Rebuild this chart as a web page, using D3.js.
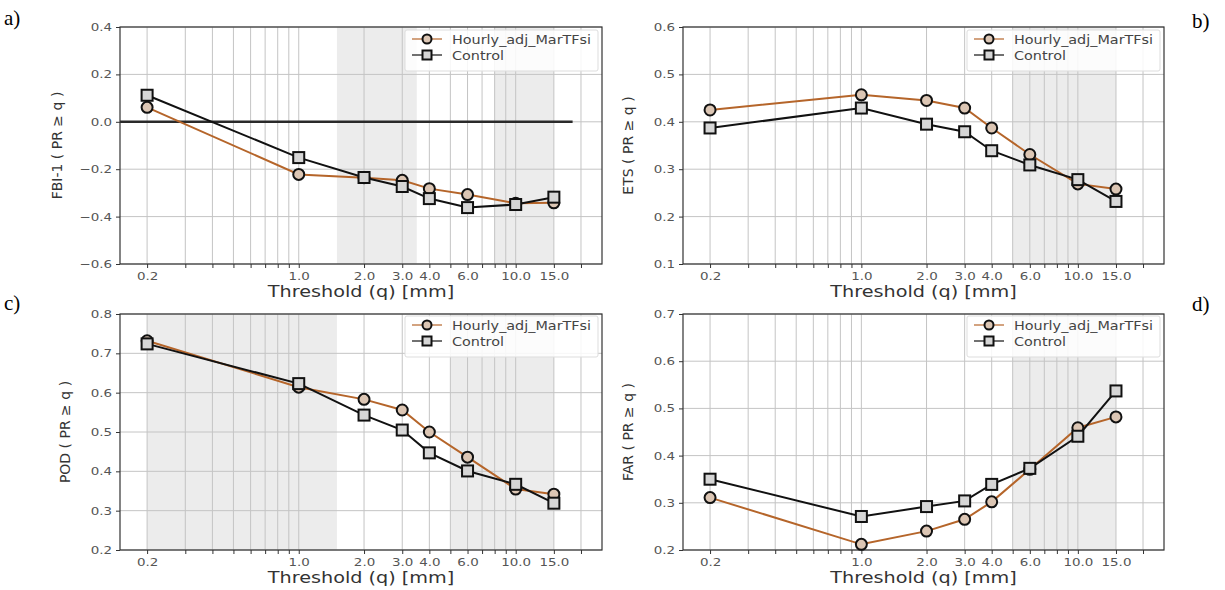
<!DOCTYPE html>
<html>
<head>
<meta charset="utf-8">
<script src="https://cdn.jsdelivr.net/npm/d3@7"></script>
<style>
  body { margin: 0; background: #fff; }
  text { font-family: "DejaVu Sans", sans-serif; }
</style>
</head>
<body>
<svg id="chart" width="1225" height="590"></svg>
<script>
// thresholds (x) and their labels
var thresholds = [0.2, 1.0, 2.0, 3.0, 4.0, 6.0, 10.0, 15.0];
var thresholdLabels = ["0.2", "1.0", "2.0", "3.0", "4.0", "6.0", "10.0", "15.0"];
var seriesNames = ["Hourly_adj_MarTFsi", "Control"];

// scores
var fbiHourly  = [0.061, -0.222, -0.236, -0.247, -0.282, -0.307, -0.344, -0.342];
var fbiControl = [0.112, -0.151, -0.235, -0.273, -0.324, -0.362, -0.349, -0.318];
var etsHourly  = [0.425, 0.457, 0.445, 0.429, 0.387, 0.331, 0.269, 0.258];
var etsControl = [0.387, 0.429, 0.395, 0.379, 0.339, 0.309, 0.278, 0.232];
var podHourly  = [0.732, 0.614, 0.583, 0.556, 0.500, 0.436, 0.355, 0.342];
var podControl = [0.724, 0.623, 0.543, 0.505, 0.447, 0.401, 0.367, 0.319];
var farHourly  = [0.311, 0.212, 0.240, 0.265, 0.302, 0.371, 0.459, 0.482];
var farControl = [0.350, 0.271, 0.292, 0.304, 0.339, 0.373, 0.441, 0.537];

// y tick values per panel
var fbiTicks = [-0.6, -0.4, -0.2, 0.0, 0.2, 0.4];
var etsTicks = [0.1, 0.2, 0.3, 0.4, 0.5, 0.6];
var podTicks = [0.2, 0.3, 0.4, 0.5, 0.6, 0.7, 0.8];
var farTicks = [0.2, 0.3, 0.4, 0.5, 0.6, 0.7];

// shaded threshold ranges
var fbiShade = [[1.5, 3.5], [8, 15]];
var etsShade = [[5, 15]];
var podShade = [[0.2, 1.5], [5, 15]];
var farShade = [[5, 15]];

var xDomain = [0.15, 25];

var brown = "#b5652a";

var panels = [
  {tag: "a)", ylabel: "FBI-1 ( PR \u2265 q )", hourly: fbiHourly, control: fbiControl, ticks: fbiTicks, shade: fbiShade,
   left: 120, right: 602, top: 27, bottom: 264, tagX: 4, tagY: 25, zero: true},
  {tag: "b)", ylabel: "ETS ( PR \u2265 q )", hourly: etsHourly, control: etsControl, ticks: etsTicks, shade: etsShade,
   left: 683, right: 1164, top: 27, bottom: 264, tagX: 1192, tagY: 28},
  {tag: "c)", ylabel: "POD ( PR \u2265 q )", hourly: podHourly, control: podControl, ticks: podTicks, shade: podShade,
   left: 120, right: 602, top: 314, bottom: 550, tagX: 4, tagY: 310},
  {tag: "d)", ylabel: "FAR ( PR \u2265 q )", hourly: farHourly, control: farControl, ticks: farTicks, shade: farShade,
   left: 683, right: 1164, top: 314, bottom: 550, tagX: 1192, tagY: 311}
];

// log minor positions for grid and ticks
var gridX = [];
[0.1, 1, 10].forEach(function (d) {
  for (var k = 1; k <= 9; k++) {
    var v = +(k * d).toFixed(2);
    if (v >= xDomain[0] && v <= xDomain[1]) gridX.push(v);
  }
});
gridX.push(15);

// the source figure was stretched sideways, widen horizontal text to match
function stretch(sel, f) {
  sel.each(function () {
    var len = this.getComputedTextLength();
    if (len > 0) {
      d3.select(this).attr("textLength", len * f).attr("lengthAdjust", "spacingAndGlyphs");
    }
  });
}

var svg = d3.select("#chart");

panels.forEach(function (p) {
  var w = p.right - p.left, h = p.bottom - p.top;
  var x = d3.scaleLog().domain(xDomain).range([0, w]);
  var y = d3.scaleLinear().domain([p.ticks[0], p.ticks[p.ticks.length - 1]]).range([h, 0]);

  // panel tag
  svg.append("text")
    .attr("x", p.tagX).attr("y", p.tagY)
    .style("font-family", "'Liberation Serif', serif")
    .style("font-size", "21px")
    .text(p.tag);

  var g = svg.append("g").attr("transform", "translate(" + p.left + "," + p.top + ")");

  // shaded ranges
  g.selectAll(".shade").data(p.shade).enter().append("rect")
    .attr("x", function (d) { return x(d[0]); })
    .attr("width", function (d) { return x(d[1]) - x(d[0]); })
    .attr("y", 0).attr("height", h)
    .attr("fill", "#ececec");

  // grid
  g.selectAll(".gx").data(gridX).enter().append("line")
    .attr("x1", function (d) { return x(d); }).attr("x2", function (d) { return x(d); })
    .attr("y1", 0).attr("y2", h)
    .attr("stroke", "#c4c4c4").attr("stroke-width", 1);
  g.selectAll(".gy").data(p.ticks).enter().append("line")
    .attr("x1", 0).attr("x2", w)
    .attr("y1", function (d) { return y(d); }).attr("y2", function (d) { return y(d); })
    .attr("stroke", "#c4c4c4").attr("stroke-width", 1);

  if (p.zero) {
    g.append("line")
      .attr("x1", 0).attr("x2", x(18.3))
      .attr("y1", y(0)).attr("y2", y(0))
      .attr("stroke", "#2a2a2a").attr("stroke-width", 2.5);
  }

  // axes
  var xAxis = d3.axisBottom(x).tickValues(gridX).tickSize(4).tickPadding(4)
    .tickFormat(function (d) {
      var i = thresholds.indexOf(d);
      return i >= 0 ? thresholdLabels[i] : "";
    });
  var gx = g.append("g").attr("transform", "translate(0," + h + ")").call(xAxis);
  var gy = g.append("g").call(d3.axisLeft(y).tickValues(p.ticks).tickSize(4).tickPadding(4)
    .tickFormat(d3.format(".1f")));
  [gx, gy].forEach(function (a) {
    a.select(".domain").remove();
    a.selectAll("line").attr("stroke", "#333");
    a.selectAll("text").attr("fill", "#555").style("font-size", "11px");
    stretch(a.selectAll("text"), 1.22);
  });

  // frame
  g.append("rect").attr("width", w).attr("height", h)
    .attr("fill", "none").attr("stroke", "#333").attr("stroke-width", 1.2);

  // axis labels
  g.append("text")
    .attr("x", w / 2).attr("y", h + 33)
    .attr("text-anchor", "middle")
    .attr("fill", "#333").style("font-size", "16px")
    .text("Threshold (q) [mm]")
    .call(stretch, 1.2);
  g.append("text")
    .attr("transform", "translate(" + (p.zero ? -58 : -50) + "," + (h / 2) + ") rotate(-90)")
    .attr("text-anchor", "middle")
    .attr("fill", "#333").style("font-size", "14px")
    .text(p.ylabel);

  // series
  var line = d3.line()
    .x(function (d, i) { return x(thresholds[i]); })
    .y(function (d) { return y(d); });

  g.append("path").datum(p.hourly).attr("d", line)
    .attr("fill", "none").attr("stroke", brown).attr("stroke-width", 2);
  g.selectAll(".hc").data(p.hourly).enter().append("circle")
    .attr("cx", function (d, i) { return x(thresholds[i]); })
    .attr("cy", function (d) { return y(d); })
    .attr("r", 5.5)
    .attr("fill", "#dcc6b4").attr("stroke", "#111").attr("stroke-width", 2);

  g.append("path").datum(p.control).attr("d", line)
    .attr("fill", "none").attr("stroke", "#111").attr("stroke-width", 2);
  g.selectAll(".cs").data(p.control).enter().append("rect")
    .attr("x", function (d, i) { return x(thresholds[i]) - 5.5; })
    .attr("y", function (d) { return y(d) - 5.5; })
    .attr("width", 11).attr("height", 11)
    .attr("fill", "#d6d6d6").attr("stroke", "#111").attr("stroke-width", 2);

  // legend
  var lx = w - 197, ly = p.top < 100 ? 3 : 2;
  var lg = g.append("g").attr("transform", "translate(" + lx + "," + ly + ")");
  lg.append("rect").attr("width", 193).attr("height", 41).attr("rx", 2)
    .attr("fill", "#fff").attr("fill-opacity", 0.85).attr("stroke", "#ddd");
  [0, 1].forEach(function (k) {
    var yy = 9 + k * 16;
    var e = lg.append("g").attr("transform", "translate(0," + yy + ")");
    e.append("line").attr("x1", 7).attr("x2", 37).attr("y1", 0).attr("y2", 0)
      .attr("stroke", k === 0 ? brown : "#111").attr("stroke-width", 1.2);
    if (k === 0) {
      e.append("circle").attr("cx", 22).attr("cy", 0).attr("r", 4.5)
        .attr("fill", "#dcc6b4").attr("stroke", "#111").attr("stroke-width", 2);
    } else {
      e.append("rect").attr("x", 17.5).attr("y", -4.5).attr("width", 9).attr("height", 9)
        .attr("fill", "#d6d6d6").attr("stroke", "#111").attr("stroke-width", 2);
    }
    e.append("text").attr("x", 47).attr("y", 4.5)
      .attr("fill", "#444").style("font-size", "12.5px")
      .text(seriesNames[k])
      .call(stretch, 1.15);
  });
});
</script>
</body>
</html>
